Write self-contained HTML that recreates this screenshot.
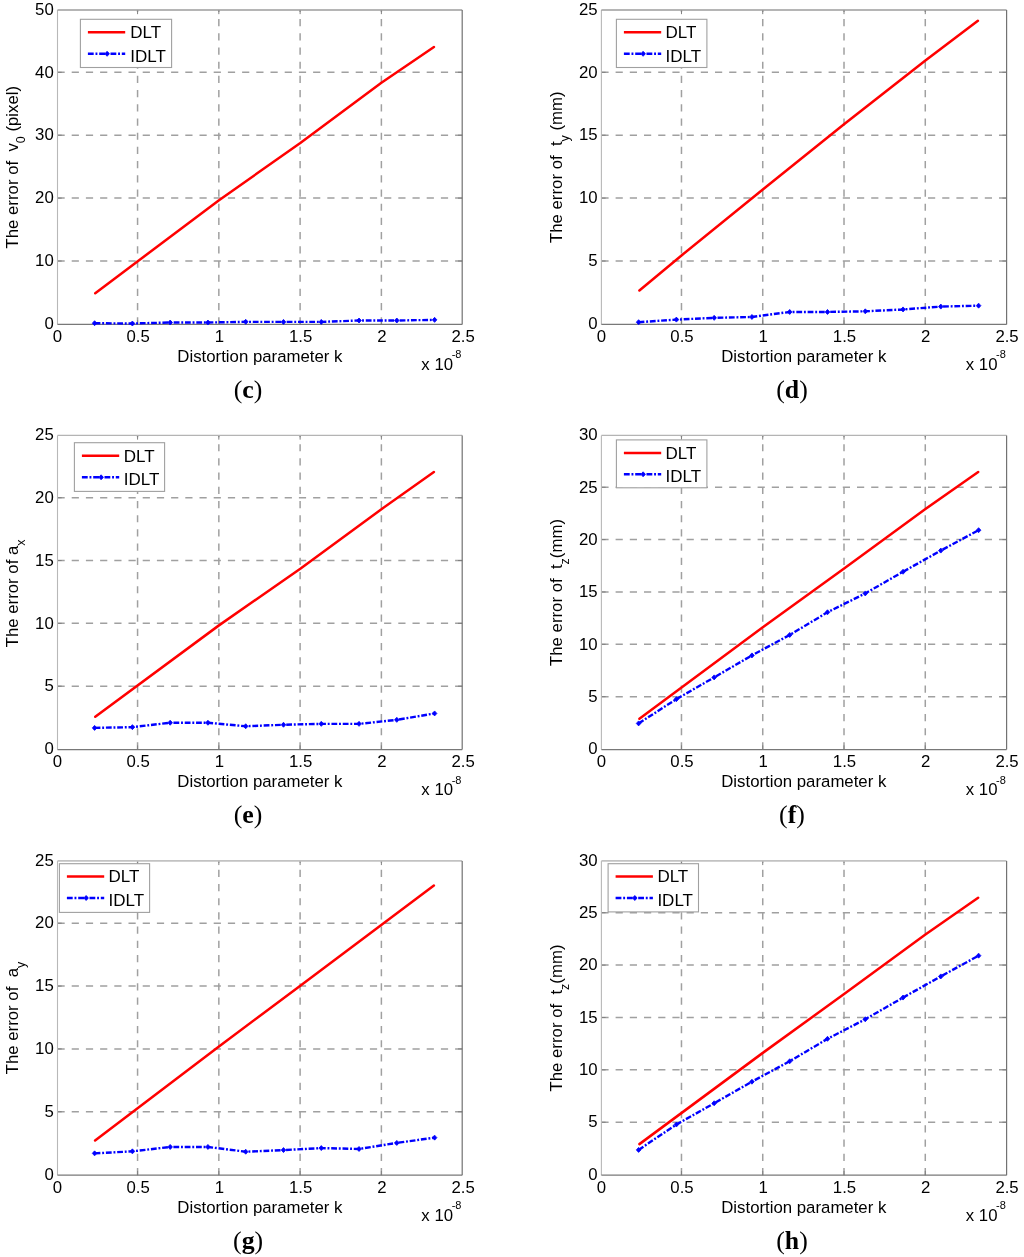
<!DOCTYPE html>
<html><head><meta charset="utf-8"><title>Figure</title><style>
html,body{margin:0;padding:0;background:#fff;}
svg{display:block;will-change:transform;}
text{font-family:"Liberation Sans", sans-serif;fill:#000;}
.tk{font-size:16.8px;}
.lb{font-size:16.8px;}
.lg{font-size:17px;}
.sub{font-size:12.5px;}
.sup{font-size:11px;}
.cap{font-family:"Liberation Serif", serif;font-size:25.8px;}
</style></head><body>
<svg width="1024" height="1257" viewBox="0 0 1024 1257">
<rect width="1024" height="1257" fill="#fff"/>
<path d="M137.57 324.45V9.95M218.84 324.45V9.95M300.11 324.45V9.95M381.38 324.45V9.95M57.50 261.00H462.20M57.50 198.10H462.20M57.50 135.20H462.20M57.50 72.30H462.20" stroke="#a0a0a0" stroke-width="1.5" stroke-dasharray="7.2,7.0" fill="none"/>
<path d="M137.57 324.45v-4.2M137.57 9.95v4.2M218.84 324.45v-4.2M218.84 9.95v4.2M300.11 324.45v-4.2M300.11 9.95v4.2M381.38 324.45v-4.2M381.38 9.95v4.2M57.50 261.00h4.2M462.20 261.00h-4.2M57.50 198.10h4.2M462.20 198.10h-4.2M57.50 135.20h4.2M462.20 135.20h-4.2M57.50 72.30h4.2M462.20 72.30h-4.2" stroke="#808080" stroke-width="1" fill="none"/>
<path d="M57.50 324.45V9.95" fill="none" stroke="#b8b8b8" stroke-width="1.1"/>
<path d="M57.50 9.95H462.20" fill="none" stroke="#9c9c9c" stroke-width="1.6"/>
<path d="M57.50 324.45H462.20" fill="none" stroke="#787878" stroke-width="1.2"/>
<path d="M462.20 324.45V9.95" fill="none" stroke="#727272" stroke-width="1.2"/>
<text x="53.75" y="329.15" text-anchor="end" class="tk">0</text>
<text x="53.75" y="266.25" text-anchor="end" class="tk">10</text>
<text x="53.75" y="203.35" text-anchor="end" class="tk">20</text>
<text x="53.75" y="140.45" text-anchor="end" class="tk">30</text>
<text x="53.75" y="77.55" text-anchor="end" class="tk">40</text>
<text x="53.75" y="14.65" text-anchor="end" class="tk">50</text>
<text x="57.50" y="342.35" text-anchor="middle" class="tk">0</text>
<text x="138.07" y="342.35" text-anchor="middle" class="tk">0.5</text>
<text x="219.34" y="342.35" text-anchor="middle" class="tk">1</text>
<text x="300.61" y="342.35" text-anchor="middle" class="tk">1.5</text>
<text x="381.88" y="342.35" text-anchor="middle" class="tk">2</text>
<text x="463.15" y="342.35" text-anchor="middle" class="tk">2.5</text>
<text x="177.35" y="361.95" class="lb">Distortion parameter k</text>
<text x="421.35" y="370.35" class="tk">x 10</text>
<text x="451.70" y="358.45" class="sup">-8</text>
<text transform="translate(18.00 167.20) rotate(-90)" text-anchor="middle" class="lb">The error of  v<tspan class="sub" dy="7">0</tspan><tspan dy="-7"> (pixel)</tspan></text>
<text x="248.10" y="398.35" text-anchor="middle" class="cap">(<tspan font-weight="bold">c</tspan>)</text>
<polyline points="95.25,293.20 219.00,200.18 300.30,143.00 381.40,82.68 433.95,47.01" fill="none" stroke="#ff0000" stroke-width="2.5" stroke-linecap="round" stroke-linejoin="round"/>
<polyline points="94.60,323.21 132.38,323.52 170.16,322.52 207.93,322.52 245.71,321.82 283.49,321.89 321.27,321.89 359.04,320.50 396.82,320.50 434.60,319.87" fill="none" stroke="#0000ff" stroke-width="2.4" stroke-dasharray="5.8,1.8,1.9,1.8"/>
<path d="M92.30 323.21L94.60 320.71L96.90 323.21L94.60 325.71Z" fill="#0000ff" stroke="#0000ff" stroke-width="0.8" stroke-linejoin="round"/>
<path d="M130.08 323.52L132.38 321.02L134.68 323.52L132.38 326.02Z" fill="#0000ff" stroke="#0000ff" stroke-width="0.8" stroke-linejoin="round"/>
<path d="M167.86 322.52L170.16 320.02L172.46 322.52L170.16 325.02Z" fill="#0000ff" stroke="#0000ff" stroke-width="0.8" stroke-linejoin="round"/>
<path d="M205.63 322.52L207.93 320.02L210.23 322.52L207.93 325.02Z" fill="#0000ff" stroke="#0000ff" stroke-width="0.8" stroke-linejoin="round"/>
<path d="M243.41 321.82L245.71 319.32L248.01 321.82L245.71 324.32Z" fill="#0000ff" stroke="#0000ff" stroke-width="0.8" stroke-linejoin="round"/>
<path d="M281.19 321.89L283.49 319.39L285.79 321.89L283.49 324.39Z" fill="#0000ff" stroke="#0000ff" stroke-width="0.8" stroke-linejoin="round"/>
<path d="M318.97 321.89L321.27 319.39L323.57 321.89L321.27 324.39Z" fill="#0000ff" stroke="#0000ff" stroke-width="0.8" stroke-linejoin="round"/>
<path d="M356.74 320.50L359.04 318.00L361.34 320.50L359.04 323.00Z" fill="#0000ff" stroke="#0000ff" stroke-width="0.8" stroke-linejoin="round"/>
<path d="M394.52 320.50L396.82 318.00L399.12 320.50L396.82 323.00Z" fill="#0000ff" stroke="#0000ff" stroke-width="0.8" stroke-linejoin="round"/>
<path d="M432.30 319.87L434.60 317.37L436.90 319.87L434.60 322.37Z" fill="#0000ff" stroke="#0000ff" stroke-width="0.8" stroke-linejoin="round"/>
<rect x="80.40" y="19.30" width="91.2" height="48.2" fill="#fff" stroke="#a0a0a0" stroke-width="1.1"/>
<path d="M87.90 32.30h37.3" stroke="#ff0000" stroke-width="2.5"/>
<path d="M87.90 53.80h37.3" stroke="#0000ff" stroke-width="2.4" stroke-dasharray="5.8,1.8,1.9,1.8"/>
<path d="M104.80 53.80L107.10 51.30L109.40 53.80L107.10 56.30Z" fill="#0000ff" stroke="#0000ff" stroke-width="0.8" stroke-linejoin="round"/>
<text x="130.20" y="38.30" class="lg">DLT</text>
<text x="130.20" y="61.70" class="lg">IDLT</text>
<path d="M681.47 324.45V9.95M762.74 324.45V9.95M844.01 324.45V9.95M925.28 324.45V9.95M601.40 261.00H1006.60M601.40 198.10H1006.60M601.40 135.20H1006.60M601.40 72.30H1006.60" stroke="#a0a0a0" stroke-width="1.5" stroke-dasharray="7.2,7.0" fill="none"/>
<path d="M681.47 324.45v-4.2M681.47 9.95v4.2M762.74 324.45v-4.2M762.74 9.95v4.2M844.01 324.45v-4.2M844.01 9.95v4.2M925.28 324.45v-4.2M925.28 9.95v4.2M601.40 261.00h4.2M1006.60 261.00h-4.2M601.40 198.10h4.2M1006.60 198.10h-4.2M601.40 135.20h4.2M1006.60 135.20h-4.2M601.40 72.30h4.2M1006.60 72.30h-4.2" stroke="#808080" stroke-width="1" fill="none"/>
<path d="M601.40 324.45V9.95" fill="none" stroke="#b8b8b8" stroke-width="1.1"/>
<path d="M601.40 9.95H1006.60" fill="none" stroke="#9c9c9c" stroke-width="1.6"/>
<path d="M601.40 324.45H1006.60" fill="none" stroke="#787878" stroke-width="1.2"/>
<path d="M1006.60 324.45V9.95" fill="none" stroke="#727272" stroke-width="1.2"/>
<text x="597.65" y="329.15" text-anchor="end" class="tk">0</text>
<text x="597.65" y="266.25" text-anchor="end" class="tk">5</text>
<text x="597.65" y="203.35" text-anchor="end" class="tk">10</text>
<text x="597.65" y="140.45" text-anchor="end" class="tk">15</text>
<text x="597.65" y="77.55" text-anchor="end" class="tk">20</text>
<text x="597.65" y="14.65" text-anchor="end" class="tk">25</text>
<text x="601.40" y="342.35" text-anchor="middle" class="tk">0</text>
<text x="681.97" y="342.35" text-anchor="middle" class="tk">0.5</text>
<text x="763.24" y="342.35" text-anchor="middle" class="tk">1</text>
<text x="844.51" y="342.35" text-anchor="middle" class="tk">1.5</text>
<text x="925.78" y="342.35" text-anchor="middle" class="tk">2</text>
<text x="1007.05" y="342.35" text-anchor="middle" class="tk">2.5</text>
<text x="721.25" y="361.95" class="lb">Distortion parameter k</text>
<text x="965.75" y="370.35" class="tk">x 10</text>
<text x="996.10" y="358.45" class="sup">-8</text>
<text transform="translate(562.00 167.20) rotate(-90)" text-anchor="middle" class="lb">The error of  t<tspan class="sub" dy="7">y</tspan><tspan dy="-7"> (mm)</tspan></text>
<text x="792.00" y="398.35" text-anchor="middle" class="cap">(<tspan font-weight="bold">d</tspan>)</text>
<polyline points="639.40,290.44 681.50,255.46 762.80,189.42 844.00,124.26 925.40,60.47 977.90,20.85" fill="none" stroke="#ff0000" stroke-width="2.5" stroke-linecap="round" stroke-linejoin="round"/>
<polyline points="638.60,322.20 676.38,319.62 714.16,317.86 751.93,316.98 789.71,311.95 827.49,311.95 865.27,311.32 903.04,309.43 940.82,306.60 978.60,305.66" fill="none" stroke="#0000ff" stroke-width="2.4" stroke-dasharray="5.8,1.8,1.9,1.8"/>
<path d="M636.30 322.20L638.60 319.70L640.90 322.20L638.60 324.70Z" fill="#0000ff" stroke="#0000ff" stroke-width="0.8" stroke-linejoin="round"/>
<path d="M674.08 319.62L676.38 317.12L678.68 319.62L676.38 322.12Z" fill="#0000ff" stroke="#0000ff" stroke-width="0.8" stroke-linejoin="round"/>
<path d="M711.86 317.86L714.16 315.36L716.46 317.86L714.16 320.36Z" fill="#0000ff" stroke="#0000ff" stroke-width="0.8" stroke-linejoin="round"/>
<path d="M749.63 316.98L751.93 314.48L754.23 316.98L751.93 319.48Z" fill="#0000ff" stroke="#0000ff" stroke-width="0.8" stroke-linejoin="round"/>
<path d="M787.41 311.95L789.71 309.45L792.01 311.95L789.71 314.45Z" fill="#0000ff" stroke="#0000ff" stroke-width="0.8" stroke-linejoin="round"/>
<path d="M825.19 311.95L827.49 309.45L829.79 311.95L827.49 314.45Z" fill="#0000ff" stroke="#0000ff" stroke-width="0.8" stroke-linejoin="round"/>
<path d="M862.97 311.32L865.27 308.82L867.57 311.32L865.27 313.82Z" fill="#0000ff" stroke="#0000ff" stroke-width="0.8" stroke-linejoin="round"/>
<path d="M900.74 309.43L903.04 306.93L905.34 309.43L903.04 311.93Z" fill="#0000ff" stroke="#0000ff" stroke-width="0.8" stroke-linejoin="round"/>
<path d="M938.52 306.60L940.82 304.10L943.12 306.60L940.82 309.10Z" fill="#0000ff" stroke="#0000ff" stroke-width="0.8" stroke-linejoin="round"/>
<path d="M976.30 305.66L978.60 303.16L980.90 305.66L978.60 308.16Z" fill="#0000ff" stroke="#0000ff" stroke-width="0.8" stroke-linejoin="round"/>
<rect x="616.40" y="19.30" width="90.5" height="48.2" fill="#fff" stroke="#a0a0a0" stroke-width="1.1"/>
<path d="M623.90 32.30h37.3" stroke="#ff0000" stroke-width="2.5"/>
<path d="M623.90 53.80h37.3" stroke="#0000ff" stroke-width="2.4" stroke-dasharray="5.8,1.8,1.9,1.8"/>
<path d="M640.80 53.80L643.10 51.30L645.40 53.80L643.10 56.30Z" fill="#0000ff" stroke="#0000ff" stroke-width="0.8" stroke-linejoin="round"/>
<text x="665.60" y="38.40" class="lg">DLT</text>
<text x="665.60" y="61.70" class="lg">IDLT</text>
<path d="M137.57 749.55V435.45M218.84 749.55V435.45M300.11 749.55V435.45M381.38 749.55V435.45M57.50 686.18H462.20M57.50 623.36H462.20M57.50 560.54H462.20M57.50 497.72H462.20" stroke="#a0a0a0" stroke-width="1.5" stroke-dasharray="7.2,7.0" fill="none"/>
<path d="M137.57 749.55v-4.2M137.57 435.45v4.2M218.84 749.55v-4.2M218.84 435.45v4.2M300.11 749.55v-4.2M300.11 435.45v4.2M381.38 749.55v-4.2M381.38 435.45v4.2M57.50 686.18h4.2M462.20 686.18h-4.2M57.50 623.36h4.2M462.20 623.36h-4.2M57.50 560.54h4.2M462.20 560.54h-4.2M57.50 497.72h4.2M462.20 497.72h-4.2" stroke="#808080" stroke-width="1" fill="none"/>
<path d="M57.50 749.55V435.45" fill="none" stroke="#b8b8b8" stroke-width="1.1"/>
<path d="M57.50 435.45H462.20" fill="none" stroke="#b4b4b4" stroke-width="1.25"/>
<path d="M57.50 749.55H462.20" fill="none" stroke="#787878" stroke-width="1.2"/>
<path d="M462.20 749.55V435.45" fill="none" stroke="#727272" stroke-width="1.2"/>
<text x="53.75" y="754.25" text-anchor="end" class="tk">0</text>
<text x="53.75" y="691.43" text-anchor="end" class="tk">5</text>
<text x="53.75" y="628.61" text-anchor="end" class="tk">10</text>
<text x="53.75" y="565.79" text-anchor="end" class="tk">15</text>
<text x="53.75" y="502.97" text-anchor="end" class="tk">20</text>
<text x="53.75" y="440.15" text-anchor="end" class="tk">25</text>
<text x="57.50" y="767.45" text-anchor="middle" class="tk">0</text>
<text x="138.07" y="767.45" text-anchor="middle" class="tk">0.5</text>
<text x="219.34" y="767.45" text-anchor="middle" class="tk">1</text>
<text x="300.61" y="767.45" text-anchor="middle" class="tk">1.5</text>
<text x="381.88" y="767.45" text-anchor="middle" class="tk">2</text>
<text x="463.15" y="767.45" text-anchor="middle" class="tk">2.5</text>
<text x="177.35" y="787.05" class="lb">Distortion parameter k</text>
<text x="421.35" y="795.45" class="tk">x 10</text>
<text x="451.70" y="783.55" class="sup">-8</text>
<text transform="translate(18.00 593.40) rotate(-90)" text-anchor="middle" class="lb">The error of a<tspan class="sub" dy="7">x</tspan><tspan dy="-7"></tspan></text>
<text x="248.10" y="823.45" text-anchor="middle" class="cap">(<tspan font-weight="bold">e</tspan>)</text>
<polyline points="95.25,716.71 218.95,625.37 300.30,568.71 381.40,509.15 433.90,471.96" fill="none" stroke="#ff0000" stroke-width="2.5" stroke-linecap="round" stroke-linejoin="round"/>
<polyline points="94.60,727.89 132.38,727.14 170.16,722.74 207.93,722.74 245.71,726.26 283.49,724.75 321.27,723.87 359.04,723.87 396.82,719.85 434.60,713.44" fill="none" stroke="#0000ff" stroke-width="2.4" stroke-dasharray="5.8,1.8,1.9,1.8"/>
<path d="M92.30 727.89L94.60 725.39L96.90 727.89L94.60 730.39Z" fill="#0000ff" stroke="#0000ff" stroke-width="0.8" stroke-linejoin="round"/>
<path d="M130.08 727.14L132.38 724.64L134.68 727.14L132.38 729.64Z" fill="#0000ff" stroke="#0000ff" stroke-width="0.8" stroke-linejoin="round"/>
<path d="M167.86 722.74L170.16 720.24L172.46 722.74L170.16 725.24Z" fill="#0000ff" stroke="#0000ff" stroke-width="0.8" stroke-linejoin="round"/>
<path d="M205.63 722.74L207.93 720.24L210.23 722.74L207.93 725.24Z" fill="#0000ff" stroke="#0000ff" stroke-width="0.8" stroke-linejoin="round"/>
<path d="M243.41 726.26L245.71 723.76L248.01 726.26L245.71 728.76Z" fill="#0000ff" stroke="#0000ff" stroke-width="0.8" stroke-linejoin="round"/>
<path d="M281.19 724.75L283.49 722.25L285.79 724.75L283.49 727.25Z" fill="#0000ff" stroke="#0000ff" stroke-width="0.8" stroke-linejoin="round"/>
<path d="M318.97 723.87L321.27 721.37L323.57 723.87L321.27 726.37Z" fill="#0000ff" stroke="#0000ff" stroke-width="0.8" stroke-linejoin="round"/>
<path d="M356.74 723.87L359.04 721.37L361.34 723.87L359.04 726.37Z" fill="#0000ff" stroke="#0000ff" stroke-width="0.8" stroke-linejoin="round"/>
<path d="M394.52 719.85L396.82 717.35L399.12 719.85L396.82 722.35Z" fill="#0000ff" stroke="#0000ff" stroke-width="0.8" stroke-linejoin="round"/>
<path d="M432.30 713.44L434.60 710.94L436.90 713.44L434.60 715.94Z" fill="#0000ff" stroke="#0000ff" stroke-width="0.8" stroke-linejoin="round"/>
<rect x="74.40" y="442.70" width="90.2" height="48.7" fill="#fff" stroke="#a0a0a0" stroke-width="1.1"/>
<path d="M81.90 455.80h37.3" stroke="#ff0000" stroke-width="2.5"/>
<path d="M81.90 477.30h37.3" stroke="#0000ff" stroke-width="2.4" stroke-dasharray="5.8,1.8,1.9,1.8"/>
<path d="M98.80 477.30L101.10 474.80L103.40 477.30L101.10 479.80Z" fill="#0000ff" stroke="#0000ff" stroke-width="0.8" stroke-linejoin="round"/>
<text x="123.70" y="461.60" class="lg">DLT</text>
<text x="123.70" y="484.80" class="lg">IDLT</text>
<path d="M681.47 749.55V435.45M762.74 749.55V435.45M844.01 749.55V435.45M925.28 749.55V435.45M601.40 696.65H1006.60M601.40 644.30H1006.60M601.40 591.95H1006.60M601.40 539.60H1006.60M601.40 487.25H1006.60" stroke="#a0a0a0" stroke-width="1.5" stroke-dasharray="7.2,7.0" fill="none"/>
<path d="M681.47 749.55v-4.2M681.47 435.45v4.2M762.74 749.55v-4.2M762.74 435.45v4.2M844.01 749.55v-4.2M844.01 435.45v4.2M925.28 749.55v-4.2M925.28 435.45v4.2M601.40 696.65h4.2M1006.60 696.65h-4.2M601.40 644.30h4.2M1006.60 644.30h-4.2M601.40 591.95h4.2M1006.60 591.95h-4.2M601.40 539.60h4.2M1006.60 539.60h-4.2M601.40 487.25h4.2M1006.60 487.25h-4.2" stroke="#808080" stroke-width="1" fill="none"/>
<path d="M601.40 749.55V435.45" fill="none" stroke="#b8b8b8" stroke-width="1.1"/>
<path d="M601.40 435.45H1006.60" fill="none" stroke="#b4b4b4" stroke-width="1.25"/>
<path d="M601.40 749.55H1006.60" fill="none" stroke="#787878" stroke-width="1.2"/>
<path d="M1006.60 749.55V435.45" fill="none" stroke="#727272" stroke-width="1.2"/>
<text x="597.65" y="754.25" text-anchor="end" class="tk">0</text>
<text x="597.65" y="701.90" text-anchor="end" class="tk">5</text>
<text x="597.65" y="649.55" text-anchor="end" class="tk">10</text>
<text x="597.65" y="597.20" text-anchor="end" class="tk">15</text>
<text x="597.65" y="544.85" text-anchor="end" class="tk">20</text>
<text x="597.65" y="492.50" text-anchor="end" class="tk">25</text>
<text x="597.65" y="440.15" text-anchor="end" class="tk">30</text>
<text x="601.40" y="767.45" text-anchor="middle" class="tk">0</text>
<text x="681.97" y="767.45" text-anchor="middle" class="tk">0.5</text>
<text x="763.24" y="767.45" text-anchor="middle" class="tk">1</text>
<text x="844.51" y="767.45" text-anchor="middle" class="tk">1.5</text>
<text x="925.78" y="767.45" text-anchor="middle" class="tk">2</text>
<text x="1007.05" y="767.45" text-anchor="middle" class="tk">2.5</text>
<text x="721.25" y="787.05" class="lb">Distortion parameter k</text>
<text x="965.75" y="795.45" class="tk">x 10</text>
<text x="996.10" y="783.55" class="sup">-8</text>
<text transform="translate(562.00 592.50) rotate(-90)" text-anchor="middle" class="lb">The error of  t<tspan class="sub" dy="7">z</tspan><tspan dy="-7">(mm)</tspan></text>
<text x="792.00" y="823.45" text-anchor="middle" class="cap">(<tspan font-weight="bold">f</tspan>)</text>
<polyline points="639.40,718.74 762.80,627.34 844.10,568.50 925.40,509.03 978.20,471.96" fill="none" stroke="#ff0000" stroke-width="2.5" stroke-linecap="round" stroke-linejoin="round"/>
<polyline points="638.60,723.40 676.38,699.16 714.16,677.39 751.93,655.40 789.71,634.98 827.49,612.26 865.27,593.42 903.04,571.74 940.82,550.59 978.60,530.18" fill="none" stroke="#0000ff" stroke-width="2.4" stroke-dasharray="5.8,1.8,1.9,1.8"/>
<path d="M636.30 723.40L638.60 720.90L640.90 723.40L638.60 725.90Z" fill="#0000ff" stroke="#0000ff" stroke-width="0.8" stroke-linejoin="round"/>
<path d="M674.08 699.16L676.38 696.66L678.68 699.16L676.38 701.66Z" fill="#0000ff" stroke="#0000ff" stroke-width="0.8" stroke-linejoin="round"/>
<path d="M711.86 677.39L714.16 674.89L716.46 677.39L714.16 679.89Z" fill="#0000ff" stroke="#0000ff" stroke-width="0.8" stroke-linejoin="round"/>
<path d="M749.63 655.40L751.93 652.90L754.23 655.40L751.93 657.90Z" fill="#0000ff" stroke="#0000ff" stroke-width="0.8" stroke-linejoin="round"/>
<path d="M787.41 634.98L789.71 632.48L792.01 634.98L789.71 637.48Z" fill="#0000ff" stroke="#0000ff" stroke-width="0.8" stroke-linejoin="round"/>
<path d="M825.19 612.26L827.49 609.76L829.79 612.26L827.49 614.76Z" fill="#0000ff" stroke="#0000ff" stroke-width="0.8" stroke-linejoin="round"/>
<path d="M862.97 593.42L865.27 590.92L867.57 593.42L865.27 595.92Z" fill="#0000ff" stroke="#0000ff" stroke-width="0.8" stroke-linejoin="round"/>
<path d="M900.74 571.74L903.04 569.24L905.34 571.74L903.04 574.24Z" fill="#0000ff" stroke="#0000ff" stroke-width="0.8" stroke-linejoin="round"/>
<path d="M938.52 550.59L940.82 548.09L943.12 550.59L940.82 553.09Z" fill="#0000ff" stroke="#0000ff" stroke-width="0.8" stroke-linejoin="round"/>
<path d="M976.30 530.18L978.60 527.68L980.90 530.18L978.60 532.68Z" fill="#0000ff" stroke="#0000ff" stroke-width="0.8" stroke-linejoin="round"/>
<rect x="616.40" y="439.90" width="90.5" height="47.9" fill="#fff" stroke="#a0a0a0" stroke-width="1.1"/>
<path d="M623.90 453.00h37.3" stroke="#ff0000" stroke-width="2.5"/>
<path d="M623.90 474.30h37.3" stroke="#0000ff" stroke-width="2.4" stroke-dasharray="5.8,1.8,1.9,1.8"/>
<path d="M640.80 474.30L643.10 471.80L645.40 474.30L643.10 476.80Z" fill="#0000ff" stroke="#0000ff" stroke-width="0.8" stroke-linejoin="round"/>
<text x="665.60" y="458.70" class="lg">DLT</text>
<text x="665.60" y="481.80" class="lg">IDLT</text>
<path d="M137.57 1175.15V860.90M218.84 1175.15V860.90M300.11 1175.15V860.90M381.38 1175.15V860.90M57.50 1111.75H462.20M57.50 1048.90H462.20M57.50 986.05H462.20M57.50 923.20H462.20" stroke="#a0a0a0" stroke-width="1.5" stroke-dasharray="7.2,7.0" fill="none"/>
<path d="M137.57 1175.15v-4.2M137.57 860.90v4.2M218.84 1175.15v-4.2M218.84 860.90v4.2M300.11 1175.15v-4.2M300.11 860.90v4.2M381.38 1175.15v-4.2M381.38 860.90v4.2M57.50 1111.75h4.2M462.20 1111.75h-4.2M57.50 1048.90h4.2M462.20 1048.90h-4.2M57.50 986.05h4.2M462.20 986.05h-4.2M57.50 923.20h4.2M462.20 923.20h-4.2" stroke="#808080" stroke-width="1" fill="none"/>
<path d="M57.50 1175.15V860.90" fill="none" stroke="#b8b8b8" stroke-width="1.1"/>
<path d="M57.50 860.90H462.20" fill="none" stroke="#c2c2c2" stroke-width="1.8"/>
<path d="M57.50 1175.15H462.20" fill="none" stroke="#787878" stroke-width="1.2"/>
<path d="M462.20 1175.15V860.90" fill="none" stroke="#727272" stroke-width="1.2"/>
<text x="53.75" y="1179.85" text-anchor="end" class="tk">0</text>
<text x="53.75" y="1117.00" text-anchor="end" class="tk">5</text>
<text x="53.75" y="1054.15" text-anchor="end" class="tk">10</text>
<text x="53.75" y="991.30" text-anchor="end" class="tk">15</text>
<text x="53.75" y="928.45" text-anchor="end" class="tk">20</text>
<text x="53.75" y="865.60" text-anchor="end" class="tk">25</text>
<text x="57.50" y="1193.05" text-anchor="middle" class="tk">0</text>
<text x="138.07" y="1193.05" text-anchor="middle" class="tk">0.5</text>
<text x="219.34" y="1193.05" text-anchor="middle" class="tk">1</text>
<text x="300.61" y="1193.05" text-anchor="middle" class="tk">1.5</text>
<text x="381.88" y="1193.05" text-anchor="middle" class="tk">2</text>
<text x="463.15" y="1193.05" text-anchor="middle" class="tk">2.5</text>
<text x="177.35" y="1212.65" class="lb">Distortion parameter k</text>
<text x="421.35" y="1221.05" class="tk">x 10</text>
<text x="451.70" y="1209.15" class="sup">-8</text>
<text transform="translate(18.00 1018.03) rotate(-90)" text-anchor="middle" class="lb">The error of  a<tspan class="sub" dy="7">y</tspan><tspan dy="-7"></tspan></text>
<text x="248.10" y="1249.05" text-anchor="middle" class="cap">(<tspan font-weight="bold">g</tspan>)</text>
<polyline points="95.10,1140.54 218.95,1046.39 300.30,985.80 433.90,885.49" fill="none" stroke="#ff0000" stroke-width="2.5" stroke-linecap="round" stroke-linejoin="round"/>
<polyline points="94.60,1153.36 132.38,1151.35 170.16,1146.95 207.93,1146.95 245.71,1151.72 283.49,1150.09 321.27,1148.08 359.04,1148.96 396.82,1142.92 434.60,1137.64" fill="none" stroke="#0000ff" stroke-width="2.4" stroke-dasharray="5.8,1.8,1.9,1.8"/>
<path d="M92.30 1153.36L94.60 1150.86L96.90 1153.36L94.60 1155.86Z" fill="#0000ff" stroke="#0000ff" stroke-width="0.8" stroke-linejoin="round"/>
<path d="M130.08 1151.35L132.38 1148.85L134.68 1151.35L132.38 1153.85Z" fill="#0000ff" stroke="#0000ff" stroke-width="0.8" stroke-linejoin="round"/>
<path d="M167.86 1146.95L170.16 1144.45L172.46 1146.95L170.16 1149.45Z" fill="#0000ff" stroke="#0000ff" stroke-width="0.8" stroke-linejoin="round"/>
<path d="M205.63 1146.95L207.93 1144.45L210.23 1146.95L207.93 1149.45Z" fill="#0000ff" stroke="#0000ff" stroke-width="0.8" stroke-linejoin="round"/>
<path d="M243.41 1151.72L245.71 1149.22L248.01 1151.72L245.71 1154.22Z" fill="#0000ff" stroke="#0000ff" stroke-width="0.8" stroke-linejoin="round"/>
<path d="M281.19 1150.09L283.49 1147.59L285.79 1150.09L283.49 1152.59Z" fill="#0000ff" stroke="#0000ff" stroke-width="0.8" stroke-linejoin="round"/>
<path d="M318.97 1148.08L321.27 1145.58L323.57 1148.08L321.27 1150.58Z" fill="#0000ff" stroke="#0000ff" stroke-width="0.8" stroke-linejoin="round"/>
<path d="M356.74 1148.96L359.04 1146.46L361.34 1148.96L359.04 1151.46Z" fill="#0000ff" stroke="#0000ff" stroke-width="0.8" stroke-linejoin="round"/>
<path d="M394.52 1142.92L396.82 1140.42L399.12 1142.92L396.82 1145.42Z" fill="#0000ff" stroke="#0000ff" stroke-width="0.8" stroke-linejoin="round"/>
<path d="M432.30 1137.64L434.60 1135.14L436.90 1137.64L434.60 1140.14Z" fill="#0000ff" stroke="#0000ff" stroke-width="0.8" stroke-linejoin="round"/>
<rect x="59.40" y="863.70" width="90.2" height="48.7" fill="#fff" stroke="#a0a0a0" stroke-width="1.1"/>
<path d="M66.90 876.60h37.3" stroke="#ff0000" stroke-width="2.5"/>
<path d="M66.90 898.00h37.3" stroke="#0000ff" stroke-width="2.4" stroke-dasharray="5.8,1.8,1.9,1.8"/>
<path d="M83.80 898.00L86.10 895.50L88.40 898.00L86.10 900.50Z" fill="#0000ff" stroke="#0000ff" stroke-width="0.8" stroke-linejoin="round"/>
<text x="108.60" y="882.40" class="lg">DLT</text>
<text x="108.60" y="905.70" class="lg">IDLT</text>
<path d="M681.47 1175.15V860.90M762.74 1175.15V860.90M844.01 1175.15V860.90M925.28 1175.15V860.90M601.40 1122.23H1006.60M601.40 1069.85H1006.60M601.40 1017.48H1006.60M601.40 965.10H1006.60M601.40 912.73H1006.60" stroke="#a0a0a0" stroke-width="1.5" stroke-dasharray="7.2,7.0" fill="none"/>
<path d="M681.47 1175.15v-4.2M681.47 860.90v4.2M762.74 1175.15v-4.2M762.74 860.90v4.2M844.01 1175.15v-4.2M844.01 860.90v4.2M925.28 1175.15v-4.2M925.28 860.90v4.2M601.40 1122.23h4.2M1006.60 1122.23h-4.2M601.40 1069.85h4.2M1006.60 1069.85h-4.2M601.40 1017.48h4.2M1006.60 1017.48h-4.2M601.40 965.10h4.2M1006.60 965.10h-4.2M601.40 912.73h4.2M1006.60 912.73h-4.2" stroke="#808080" stroke-width="1" fill="none"/>
<path d="M601.40 1175.15V860.90" fill="none" stroke="#b8b8b8" stroke-width="1.1"/>
<path d="M601.40 860.90H1006.60" fill="none" stroke="#c2c2c2" stroke-width="1.8"/>
<path d="M601.40 1175.15H1006.60" fill="none" stroke="#787878" stroke-width="1.2"/>
<path d="M1006.60 1175.15V860.90" fill="none" stroke="#727272" stroke-width="1.2"/>
<text x="597.65" y="1179.85" text-anchor="end" class="tk">0</text>
<text x="597.65" y="1127.48" text-anchor="end" class="tk">5</text>
<text x="597.65" y="1075.10" text-anchor="end" class="tk">10</text>
<text x="597.65" y="1022.73" text-anchor="end" class="tk">15</text>
<text x="597.65" y="970.35" text-anchor="end" class="tk">20</text>
<text x="597.65" y="917.98" text-anchor="end" class="tk">25</text>
<text x="597.65" y="865.60" text-anchor="end" class="tk">30</text>
<text x="601.40" y="1193.05" text-anchor="middle" class="tk">0</text>
<text x="681.97" y="1193.05" text-anchor="middle" class="tk">0.5</text>
<text x="763.24" y="1193.05" text-anchor="middle" class="tk">1</text>
<text x="844.51" y="1193.05" text-anchor="middle" class="tk">1.5</text>
<text x="925.78" y="1193.05" text-anchor="middle" class="tk">2</text>
<text x="1007.05" y="1193.05" text-anchor="middle" class="tk">2.5</text>
<text x="721.25" y="1212.65" class="lb">Distortion parameter k</text>
<text x="965.75" y="1221.05" class="tk">x 10</text>
<text x="996.10" y="1209.15" class="sup">-8</text>
<text transform="translate(562.00 1018.03) rotate(-90)" text-anchor="middle" class="lb">The error of  t<tspan class="sub" dy="7">z</tspan><tspan dy="-7">(mm)</tspan></text>
<text x="792.00" y="1249.05" text-anchor="middle" class="cap">(<tspan font-weight="bold">h</tspan>)</text>
<polyline points="639.40,1144.12 762.80,1052.88 844.10,994.01 925.40,934.51 978.15,897.75" fill="none" stroke="#ff0000" stroke-width="2.5" stroke-linecap="round" stroke-linejoin="round"/>
<polyline points="638.60,1149.88 676.38,1124.53 714.16,1103.27 751.93,1081.69 789.71,1061.26 827.49,1038.84 865.27,1019.26 903.04,997.57 940.82,976.41 978.60,955.67" fill="none" stroke="#0000ff" stroke-width="2.4" stroke-dasharray="5.8,1.8,1.9,1.8"/>
<path d="M636.30 1149.88L638.60 1147.38L640.90 1149.88L638.60 1152.38Z" fill="#0000ff" stroke="#0000ff" stroke-width="0.8" stroke-linejoin="round"/>
<path d="M674.08 1124.53L676.38 1122.03L678.68 1124.53L676.38 1127.03Z" fill="#0000ff" stroke="#0000ff" stroke-width="0.8" stroke-linejoin="round"/>
<path d="M711.86 1103.27L714.16 1100.77L716.46 1103.27L714.16 1105.77Z" fill="#0000ff" stroke="#0000ff" stroke-width="0.8" stroke-linejoin="round"/>
<path d="M749.63 1081.69L751.93 1079.19L754.23 1081.69L751.93 1084.19Z" fill="#0000ff" stroke="#0000ff" stroke-width="0.8" stroke-linejoin="round"/>
<path d="M787.41 1061.26L789.71 1058.76L792.01 1061.26L789.71 1063.76Z" fill="#0000ff" stroke="#0000ff" stroke-width="0.8" stroke-linejoin="round"/>
<path d="M825.19 1038.84L827.49 1036.34L829.79 1038.84L827.49 1041.34Z" fill="#0000ff" stroke="#0000ff" stroke-width="0.8" stroke-linejoin="round"/>
<path d="M862.97 1019.26L865.27 1016.76L867.57 1019.26L865.27 1021.76Z" fill="#0000ff" stroke="#0000ff" stroke-width="0.8" stroke-linejoin="round"/>
<path d="M900.74 997.57L903.04 995.07L905.34 997.57L903.04 1000.07Z" fill="#0000ff" stroke="#0000ff" stroke-width="0.8" stroke-linejoin="round"/>
<path d="M938.52 976.41L940.82 973.91L943.12 976.41L940.82 978.91Z" fill="#0000ff" stroke="#0000ff" stroke-width="0.8" stroke-linejoin="round"/>
<path d="M976.30 955.67L978.60 953.17L980.90 955.67L978.60 958.17Z" fill="#0000ff" stroke="#0000ff" stroke-width="0.8" stroke-linejoin="round"/>
<rect x="608.10" y="863.70" width="90.4" height="48.2" fill="#fff" stroke="#a0a0a0" stroke-width="1.1"/>
<path d="M615.60 876.60h37.3" stroke="#ff0000" stroke-width="2.5"/>
<path d="M615.60 898.00h37.3" stroke="#0000ff" stroke-width="2.4" stroke-dasharray="5.8,1.8,1.9,1.8"/>
<path d="M632.50 898.00L634.80 895.50L637.10 898.00L634.80 900.50Z" fill="#0000ff" stroke="#0000ff" stroke-width="0.8" stroke-linejoin="round"/>
<text x="657.40" y="882.40" class="lg">DLT</text>
<text x="657.40" y="905.70" class="lg">IDLT</text>
</svg>
</body></html>
